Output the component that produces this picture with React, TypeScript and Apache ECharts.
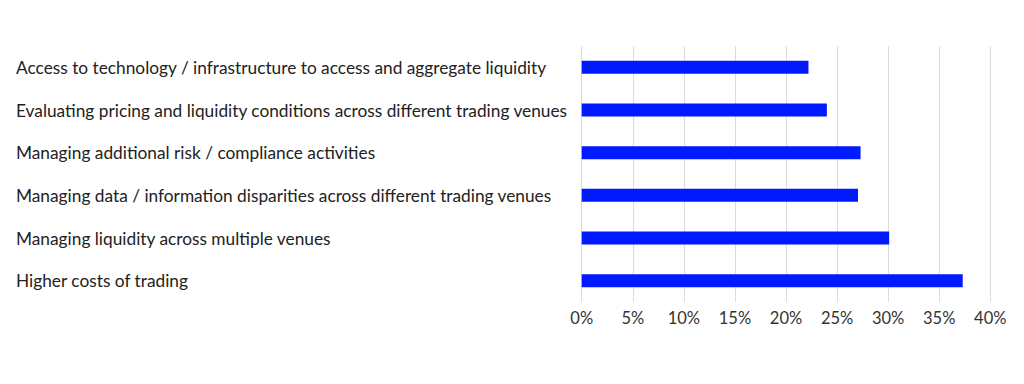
import React, { useEffect, useRef } from "react";
import * as echarts from "echarts";

const categories = [
  "Access to technology / infrastructure to access and aggregate liquidity",
  "Evaluating pricing and liquidity conditions across different trading venues",
  "Managing additional risk / compliance activities",
  "Managing data / information disparities across different trading venues",
  "Managing liquidity across multiple venues",
  "Higher costs of trading",
];
const values = [22.2, 24.0, 27.3, 27.05, 30.1, 37.3];
const xTicks = { min: 0, max: 40, interval: 5 };

export default function App() {
  const ref = useRef<HTMLDivElement>(null);
  useEffect(() => {
    if (!ref.current) return;
    const chart = echarts.init(ref.current, undefined, { renderer: "svg" });
    chart.setOption({
      animation: false,
      backgroundColor: "#ffffff",
      grid: { left: 581.7, right: 33.7, top: 46, height: 256, containLabel: false },
      xAxis: {
        type: "value",
        min: xTicks.min,
        max: xTicks.max,
        interval: xTicks.interval,
        axisLine: { show: false },
        axisTick: { show: false },
        splitLine: { show: true, lineStyle: { color: "#dcdcdc", width: 1 } },
        axisLabel: {
          formatter: (v: number) => `${v}%`,
          color: "#333333",
          fontSize: 16.5,
          fontFamily: "Lato",
          margin: 7,
        },
      },
      yAxis: {
        type: "category",
        data: categories,
        inverse: true,
        axisLine: { show: false },
        axisTick: { show: false },
        splitLine: { show: false },
        axisLabel: {
          align: "left",
          margin: 565.7,
          color: "#222222",
          fontSize: 17.3,
          fontFamily: "Lato",
        },
      },
      series: [
        {
          type: "bar",
          data: values,
          barWidth: 13,
          itemStyle: { color: "#0019FF" },
        },
      ],
    });
    return () => chart.dispose();
  }, []);
  return (
    <div
      ref={ref}
      style={{ position: "fixed", left: 0, top: 0, width: 1024, height: 384 }}
    />
  );
}
